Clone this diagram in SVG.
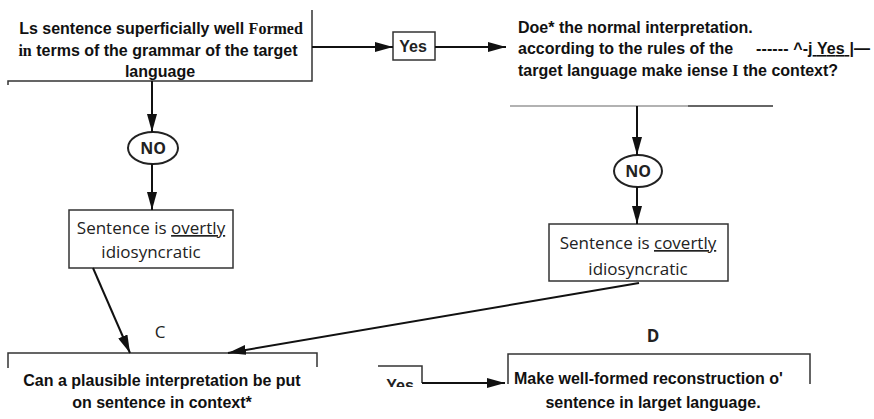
<svg xmlns="http://www.w3.org/2000/svg" width="874" height="419" viewBox="0 0 874 419">
<defs>
<style>
.b{font-family:"Liberation Sans",Arial,sans-serif;font-weight:bold;font-size:16px;fill:#111}
.s{font-family:"Liberation Serif","Times New Roman",serif}
.g{font-family:"Open Sans","DejaVu Sans",sans-serif;font-size:17px;fill:#222}
.n{font-family:"Open Sans","DejaVu Sans",sans-serif;font-size:16px;font-weight:bold;fill:#222}
.y{font-family:"Liberation Sans Narrow","Liberation Sans",Arial,sans-serif;font-weight:bold;font-size:16px;fill:#222}
.ln{fill:none;stroke:#333;stroke-width:1.5}
.lt{fill:none;stroke:#999;stroke-width:1.5}
.c{fill:none;stroke:#111;stroke-width:2}
.e{fill:#fff;stroke:#222;stroke-width:2}
</style>
<marker id="ah" markerUnits="userSpaceOnUse" markerWidth="18" markerHeight="10" refX="18" refY="5" orient="auto">
<path d="M0,0 L18,5 L0,10 z" fill="#111"/>
</marker>
<clipPath id="cy"><rect x="370" y="360" width="60" height="27"/></clipPath>
</defs>
<rect width="874" height="419" fill="#fff"/>
<g id="q1">
<path class="ln" d="M8,85 L8,81 L312,81 L312,10"/>
<text class="b" x="161" y="34" text-anchor="middle">Ls sentence superficially well <tspan class="s">Formed</tspan></text>
<text class="b" x="158" y="56" text-anchor="middle"><tspan class="s">in</tspan> terms of the grammar of the target</text>
<text class="b" x="160" y="77" text-anchor="middle">language</text>
</g>
<g id="yes1">
<rect class="ln" x="393" y="32" width="42" height="28" fill="#fff"/>
<text class="y" x="413" y="52" text-anchor="middle">Yes</text>
</g>
<g id="q2">
<path class="lt" d="M510,106 L688,106"/>
<path class="ln" d="M688,106 L773,106"/>
<text class="b" x="518" y="33">Doe* the normal interpretation.</text>
<text class="b" x="518" y="54">according to the rules of the</text>
<text class="b" x="518" y="76">target language make iense <tspan class="s">I</tspan> the context?</text>
<text class="b" x="756" y="54" textLength="114" lengthAdjust="spacing">------ ^-<tspan text-decoration="underline">j Yes |</tspan>—</text>
</g>
<g id="no1">
<ellipse class="e" cx="153" cy="148" rx="25" ry="16"/>
<text class="n" x="153" y="154" text-anchor="middle">NO</text>
</g>
<g id="no2">
<ellipse class="e" cx="638" cy="171" rx="24" ry="16"/>
<text class="n" x="638" y="177" text-anchor="middle">NO</text>
</g>
<g id="overt">
<rect class="ln" x="69" y="210" width="164" height="58" fill="#fff"/>
<text class="g" x="151" y="234" text-anchor="middle">Sentence is <tspan text-decoration="underline">overtly</tspan></text>
<text class="g" x="151" y="258" text-anchor="middle">idiosyncratic</text>
</g>
<g id="covert">
<rect class="ln" x="549" y="224" width="179" height="57" fill="#fff"/>
<text class="g" x="638" y="249" text-anchor="middle">Sentence is <tspan text-decoration="underline">covertly</tspan></text>
<text class="g" x="638" y="275" text-anchor="middle">idiosyncratic</text>
</g>
<g id="c">
<text class="g" x="160" y="338" text-anchor="middle">C</text>
<path class="ln" d="M8,368 L8,353 L317,353 L317,367"/>
<text class="b" x="162" y="386" text-anchor="middle">Can a plausible interpretation be put</text>
<text class="b" x="162" y="408" text-anchor="middle">on sentence in context*</text>
</g>
<g id="yes2">
<path class="ln" d="M378,366 L422,366 L422,383"/>
<text class="y" x="400" y="391" text-anchor="middle" clip-path="url(#cy)">Yes</text>
</g>
<g id="d">
<text class="g" x="653" y="342" text-anchor="middle" style="font-weight:bold">D</text>
<path class="ln" d="M508,384 L508,354 L810,354 L810,384"/>
<text class="b" x="514" y="384">Make well-formed reconstruction o'</text>
<text class="b" x="653" y="408" text-anchor="middle">sentence in larget language.</text>
</g>
<g id="connectors">
<path class="c" d="M152,81 L152,132" marker-end="url(#ah)"/>
<path class="c" d="M152,164 L152,210" marker-end="url(#ah)"/>
<path class="c" d="M312,47 L393,47" marker-end="url(#ah)"/>
<path class="c" d="M435,47 L506,47" marker-end="url(#ah)"/>
<path class="c" d="M637,106 L637,155" marker-end="url(#ah)"/>
<path class="c" d="M637,187 L637,224" marker-end="url(#ah)"/>
<path class="c" d="M93,268 L130,353" marker-end="url(#ah)"/>
<path class="c" d="M639,283 L228,353" marker-end="url(#ah)"/>
<path class="c" d="M422,383 L505,383" marker-end="url(#ah)"/>
</g>
</svg>
